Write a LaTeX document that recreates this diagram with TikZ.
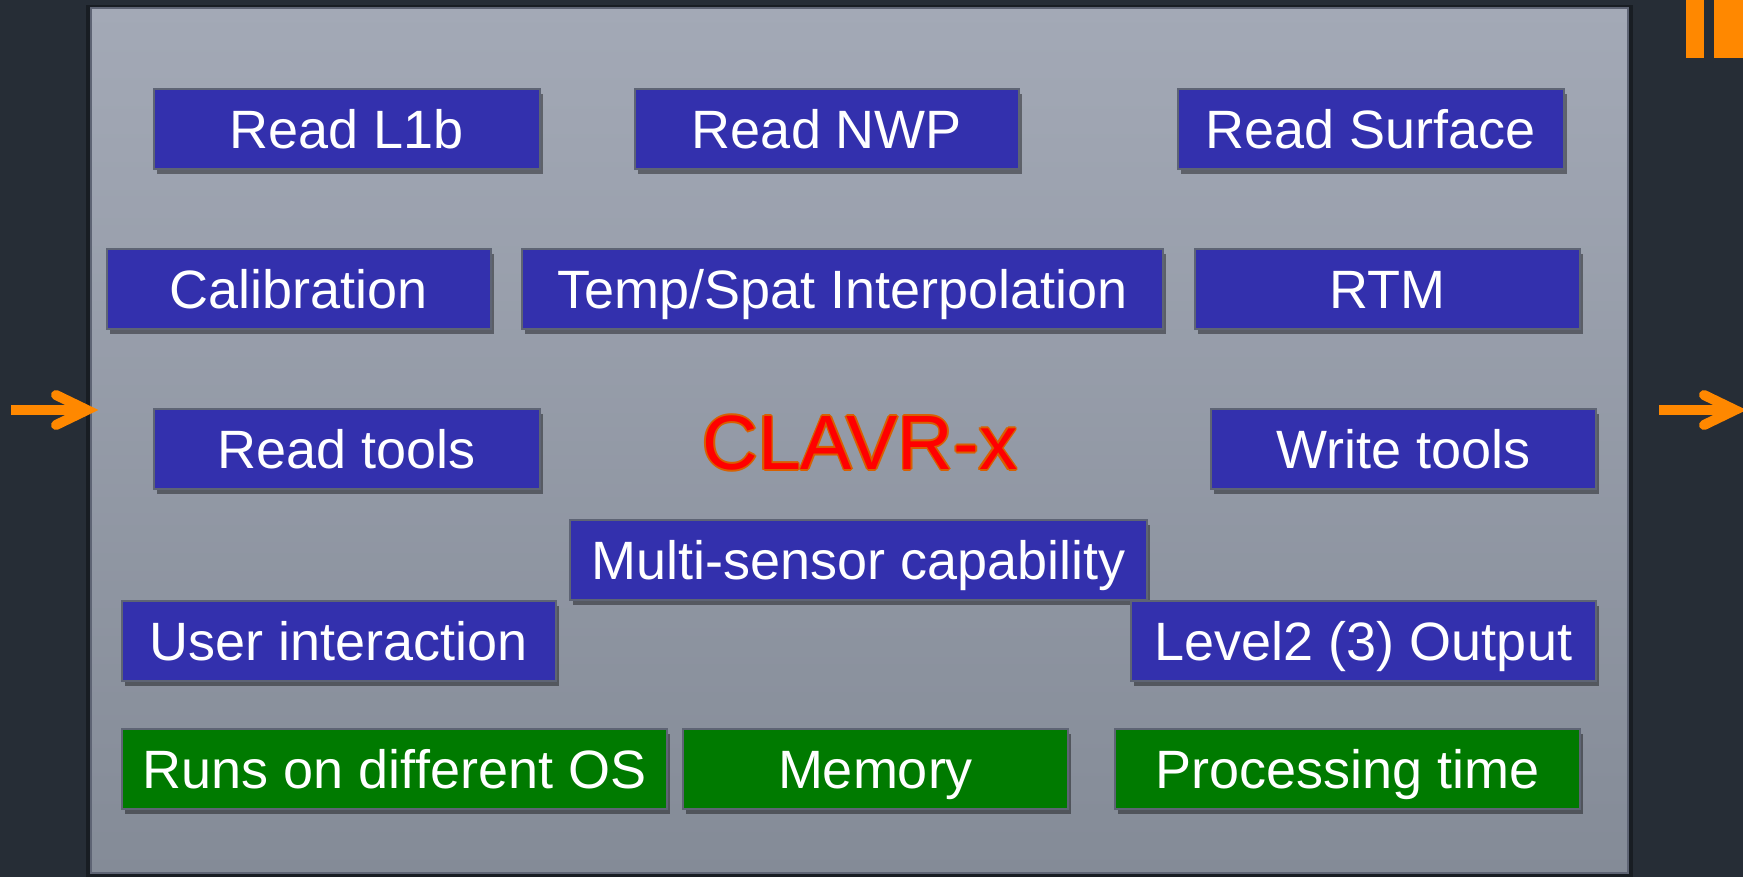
\documentclass[tikz,border=0pt]{standalone}
\usepackage{fontspec}
\setmainfont{Liberation Sans}
\usetikzlibrary{shadows}
\definecolor{bgdark}{HTML}{262D36}
\definecolor{paneltop}{HTML}{A3A9B6}
\definecolor{panelbot}{HTML}{848B97}
\definecolor{boxblue}{HTML}{3330AD}
\definecolor{boxgreen}{HTML}{007A00}
\definecolor{edgegray}{HTML}{5E6474}
\definecolor{arroworange}{HTML}{FF8800}
\definecolor{titlered}{HTML}{FF0000}
\definecolor{titleedge}{HTML}{D86000}
\tikzset{
  box/.style={draw=edgegray, line width=1.5pt, minimum height=80pt, inner sep=0pt,
    text height=39pt, text depth=0pt,
    text=white, font=\fontsize{54}{60}\selectfont,
    drop shadow={shadow xshift=3pt, shadow yshift=-5pt, opacity=0.4, fill=black}},
  bluebox/.style={box, fill=boxblue},
  greenbox/.style={box, fill=boxgreen},
  orangearrow/.style={draw=arroworange, line width=10pt},
  titletext/.style={font=\fontsize{77}{80}\selectfont, inner sep=0pt}
}
\begin{document}
\begin{tikzpicture}[x=1pt,y=-1pt]
\useasboundingbox (0,0) rectangle (1743,877);
\fill[bgdark] (0,0) rectangle (1743,877);
% panel shadow
\fill[black, opacity=0.35] (86,5) rectangle (1633,877);
\shade[top color=paneltop, bottom color=panelbot, draw=edgegray, line width=1.5pt]
  (91,8) rectangle (1628,873);
% orange bars top right
\fill[arroworange] (1686,0) rectangle (1704,58);
\fill[arroworange] (1714,0) rectangle (1743,58);
% arrows
\coordinate (la1) at (11,410);
\coordinate (la2) at (80,410);
\coordinate (lh1) at (56,395);
\coordinate (lht) at (87,410);
\coordinate (lh2) at (56,425);
\draw[orangearrow] (la1) -- (la2);
\draw[orangearrow, line cap=round, line join=miter] (lh1) -- (lht) -- (lh2);
\coordinate (ra1) at (1659,410);
\coordinate (ra2) at (1728,410);
\coordinate (rh1) at (1704,395);
\coordinate (rht) at (1735,410);
\coordinate (rh2) at (1704,425);
\draw[orangearrow] (ra1) -- (ra2);
\draw[orangearrow, line cap=round, line join=miter] (rh1) -- (rht) -- (rh2);
% boxes
\node[bluebox, minimum width=386pt] (l1b) at (347,129) {Read L1b};
\node[bluebox, minimum width=384pt] (nwp) at (827,129) {Read NWP};
\node[bluebox, minimum width=386pt] (surf) at (1371,129) {Read Surface};
\node[bluebox, minimum width=384pt] (cal) at (299,289) {Calibration};
\node[bluebox, minimum width=641pt] (interp) at (842.5,289) {Temp/Spat Interpolation};
\node[bluebox, minimum width=385pt] (rtm) at (1387.5,289) {RTM};
\node[bluebox, minimum width=386pt] (rtools) at (347,449) {Read tools};
\node[bluebox, minimum width=385pt] (wtools) at (1403.5,449) {Write tools};
\node[bluebox, minimum width=577pt] (multi) at (858.5,560) {Multi-sensor capability};
\node[bluebox, minimum width=434pt] (user) at (339,641) {User interaction};
\node[bluebox, minimum width=465pt] (lev2) at (1363.5,641) {Level2 (3) Output};
\node[greenbox, minimum width=545pt] (os) at (394.5,769) {Runs on different OS};
\node[greenbox, minimum width=385pt] (mem) at (875.5,769) {Memory};
\node[greenbox, minimum width=465pt] (proc) at (1347.5,769) {Processing time};
% title with outline
\foreach \dx/\dy in {1.6/0,-1.6/0,0/1.6,0/-1.6,1.1/1.1,-1.1/1.1,1.1/-1.1,-1.1/-1.1}
  \node[titletext, text=titleedge] at (860+\dx,443+\dy) {CLAVR-x};
\node[titletext, text=titlered] (title) at (860,443) {CLAVR-x};
\end{tikzpicture}
\end{document}
